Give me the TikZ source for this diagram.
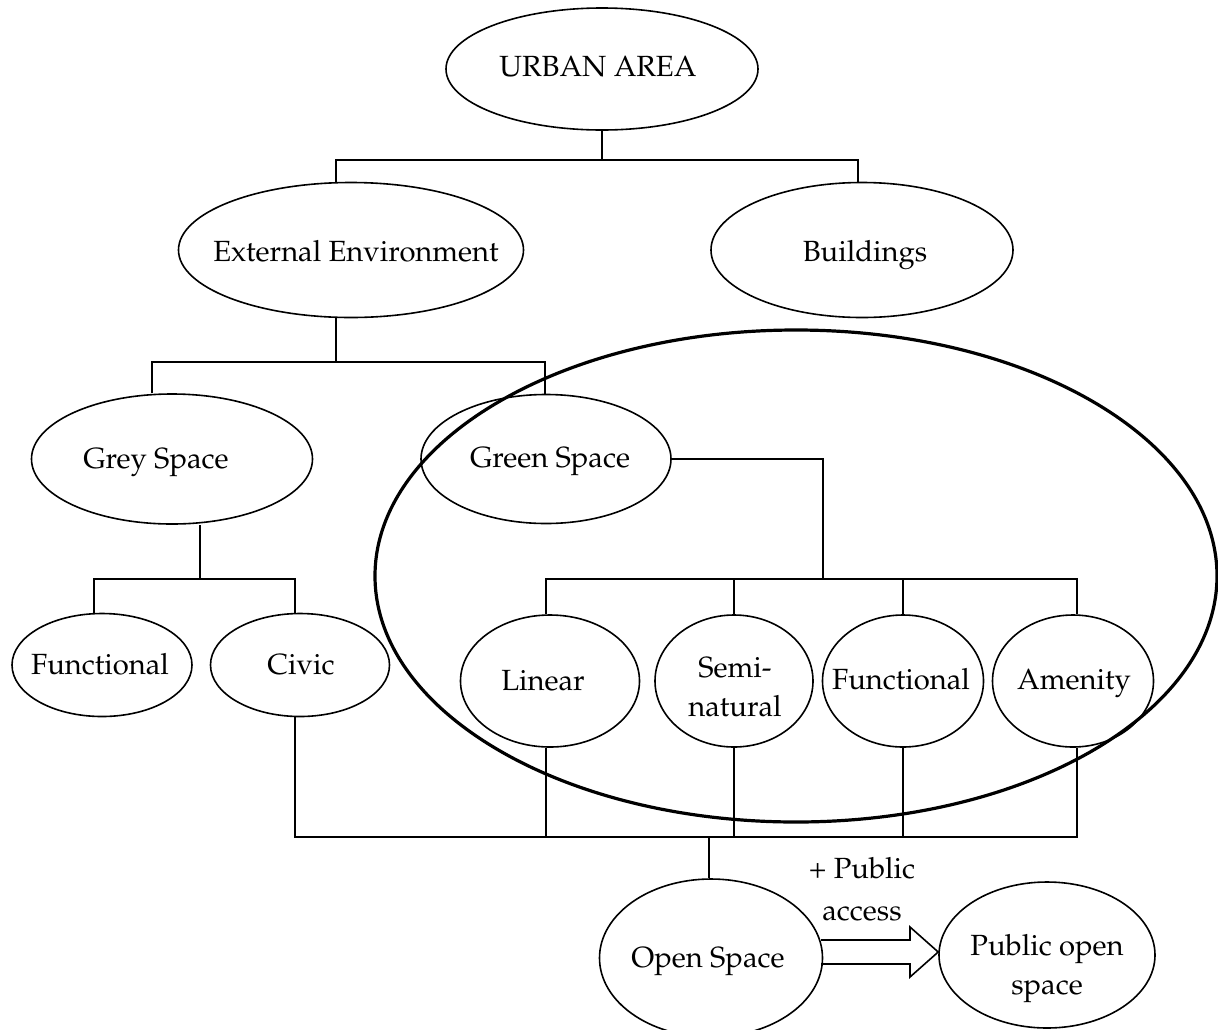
\documentclass[tikz,border=0pt]{standalone}
\usepackage[T1]{fontenc}
\renewcommand{\rmdefault}{ppl}
\usetikzlibrary{shapes.geometric}
\begin{document}
\begin{tikzpicture}[x=1pt,y=-1pt,
  ell/.style={draw, ellipse, line width=1.6pt, inner sep=0pt},
  wire/.style={line width=1.6pt, line join=miter},
  lbl/.style={font=\fontsize{29.2}{39}\selectfont, text height=0.72em, text depth=0.24em, inner sep=0pt},
  mlbl/.style={font=\fontsize{29.2}{39}\selectfont, inner sep=0pt, align=center}]
\useasboundingbox (0,0) rectangle (1218,1029);

% hierarchy of spaces
\node[ell, minimum width=312pt, minimum height=122pt,
  label={[lbl,xshift=-4pt,yshift=-5pt]center:URBAN AREA}] (urban) at (602,69) {};
\node[ell, minimum width=345pt, minimum height=135pt,
  label={[lbl,xshift=5pt,yshift=-9pt]center:External Environment}] (ext) at (351,250) {};
\node[ell, minimum width=302pt, minimum height=135pt,
  label={[lbl,xshift=3pt,yshift=-9pt]center:Buildings}] (bld) at (862,250) {};
\node[ell, minimum width=281pt, minimum height=130pt,
  label={[lbl,xshift=-16pt,yshift=-7pt]center:Grey Space}] (grey) at (172,459) {};
\node[ell, minimum width=250pt, minimum height=129pt,
  label={[lbl,xshift=4pt,yshift=-6pt]center:Green Space}] (green) at (546,459) {};
\node[ell, minimum width=180pt, minimum height=103pt,
  label={[lbl,xshift=-2pt,yshift=-7pt]center:Functional}] (gfunc) at (102,665) {};
\node[ell, minimum width=179pt, minimum height=103pt,
  label={[lbl,xshift=1pt,yshift=-7pt]center:Civic}] (civic) at (300,665) {};
\node[ell, minimum width=179pt, minimum height=132pt,
  label={[lbl,xshift=-7pt,yshift=-7pt]center:Linear}] (lin) at (550,681) {};
\node[ell, minimum width=158pt, minimum height=132pt,
  label={[mlbl,xshift=1pt,yshift=-6pt]center:Semi-\\natural}] (semi) at (734,681) {};
\node[ell, minimum width=161pt, minimum height=132pt,
  label={[lbl,xshift=-2pt,yshift=-6pt]center:Functional}] (nfunc) at (903,681) {};
\node[ell, minimum width=161pt, minimum height=132pt,
  label={[lbl,xshift=1pt,yshift=-6pt]center:Amenity}] (amen) at (1073,681) {};
\node[ell, minimum width=223pt, minimum height=158pt,
  label={[lbl,xshift=-3pt,yshift=-7pt]center:Open Space}] (open) at (711,958) {};
\node[ell, minimum width=216pt, minimum height=146pt,
  label={[mlbl,yshift=-14pt]center:Public open\\space}] (pub) at (1047,955) {};

% the green-space group
\draw[line width=3.2pt] (796,576) ellipse [x radius=421, y radius=246];

% urban area -> external environment, buildings
\coordinate (j1) at (602,160);
\coordinate (j1l) at (336,160);
\coordinate (j1r) at (858,160);
\draw[wire] (urban.south) -- (j1);
\draw[wire] (j1l |- ext.north) -- (j1l) -- (j1r) -- (j1r |- bld.north);

% external environment -> grey, green
\coordinate (j2) at (336,362);
\coordinate (j2l) at (152,362);
\coordinate (j2r) at (545,362);
\draw[wire] (j2 |- ext.south) -- (j2);
\draw[wire] (j2l |- grey.north) -- (j2l) -- (j2r) -- (j2r |- green.north);

% grey space -> functional, civic
\coordinate (j3) at (200,579);
\coordinate (j3l) at (94,579);
\coordinate (j3r) at (295,579);
\draw[wire] (j3 |- grey.south) -- (j3);
\draw[wire] (j3l |- gfunc.north) -- (j3l) -- (j3r) -- (j3r |- civic.north);

% green space -> four types
\coordinate (j4) at (823,579);
\coordinate (j4a) at (546,579);
\coordinate (j4b) at (734,579);
\coordinate (j4c) at (903,579);
\coordinate (j4d) at (1077,579);
\draw[wire] (green.east) -| (j4);
\draw[wire] (j4a |- lin.north) -- (j4a) -- (j4d) -- (j4d |- amen.north);
\draw[wire] (j4b) -- (j4b |- semi.north);
\draw[wire] (j4c) -- (j4c |- nfunc.north);

% civic and green types -> open space
\coordinate (b0) at (295,837);
\coordinate (b1) at (546,837);
\coordinate (b2) at (734,837);
\coordinate (b3) at (903,837);
\coordinate (b4) at (1077,837);
\coordinate (bo) at (709,837);
\draw[wire] (b0 |- civic.south) -- (b0) -- (b4) -- (b4 |- amen.south);
\draw[wire] (b1 |- lin.south) -- (b1);
\draw[wire] (b2 |- semi.south) -- (b2);
\draw[wire] (b3 |- nfunc.south) -- (b3);
\draw[wire] (bo) -- (bo |- open.north);

% open space => public open space
\draw[wire] (821,940) -- (910,940) -- (910,927) -- (pub.west |- 0,952) -- (910,977) -- (910,964) -- (821,964);
\node[mlbl, font=\fontsize{29.2}{42}\selectfont] (acc) at (862,889) {+ Public\\access};
\end{tikzpicture}
\end{document}
